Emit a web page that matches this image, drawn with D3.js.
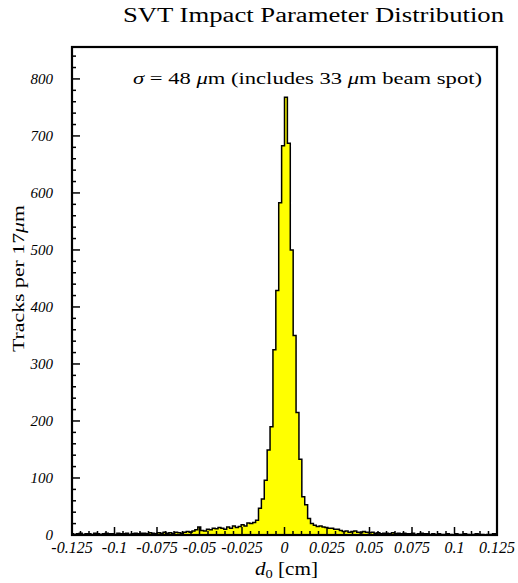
<!DOCTYPE html>
<html>
<head>
<meta charset="utf-8">
<script src="https://cdn.jsdelivr.net/npm/d3@7"></script>
<style>
  body { margin: 0; background: #fff; }
  text { font-family: "Liberation Serif", "DejaVu Serif", serif; }
</style>
</head>
<body>
<script>
// histogram: bins of 17 um (0.0017 cm), first bin starts at -74 * binWidth
var binWidth = 0.0017;
var firstBin = -74;
var counts = [
  // left tail
  2,1,2,3,1,2,2,1,3,2,1,2,3,2,2,1,3,2,2,3,1,2,3,2,3,
  3,2,4,3,2,4,3,5,3,4,2,5,4,3,5,
  6,5,7,9,14,8,7,10,9,12,
  11,13,12,10,14,12,16,13,15,
  18,16,21,20,
  // core
  22,26,47,63,96,149,190,325,429,583,683,
  768,687,500,350,215,133,67,53,29,20,17,
  // right tail
  15,16,14,13,12,12,10,10,
  8,6,7,5,6,7,5,4,6,5,4,5,
  3,4,2,3,3,2,4,2,3,2,3,2,2,3,1,2,3,2,2,1,
  2,1,2,1,1,2,1,0,2,1,1,2,1,0,1,2,1,1,0,1,1,2,1
];
var xTicks = [-0.125, -0.1, -0.075, -0.05, -0.025, 0, 0.025, 0.05, 0.075, 0.1, 0.125];
var xTickLabels = ["-0.125", "-0.1", "-0.075", "-0.05", "-0.025", "0", "0.025", "0.05", "0.075", "0.1", "0.125"];
var yTicks = [0, 100, 200, 300, 400, 500, 600, 700, 800];

var W = 518, H = 583;
var pL = 72, pR = 497, pT = 47, pB = 535;

var svg = d3.select("body").append("svg")
    .attr("width", W)
    .attr("height", H);

var x = d3.scaleLinear().domain([-0.125, 0.125]).range([pL, pR]);
var y = d3.scaleLinear().domain([0, 856]).range([pB, pT]);

// step outline points
var pts = [];
counts.forEach(function(c, i) {
  var x0 = Math.max(-0.125, (firstBin + i) * binWidth);
  var x1 = Math.min(0.125, (firstBin + i + 1) * binWidth);
  pts.push([x0, c], [x1, c]);
});

var area = d3.area()
    .x(function(d) { return x(d[0]); })
    .y0(y(0))
    .y1(function(d) { return y(d[1]); });
var line = d3.line()
    .x(function(d) { return x(d[0]); })
    .y(function(d) { return y(d[1]); });

svg.append("path")
    .attr("d", area(pts))
    .attr("fill", "#ffff00");
svg.append("path")
    .attr("d", line(pts))
    .attr("fill", "none")
    .attr("stroke", "#000")
    .attr("stroke-width", 1.5);

// y ticks (inward)
var yMinor = d3.range(0, 860, 20);
svg.selectAll(".ymin")
    .data(yMinor)
  .enter().append("line")
    .attr("x1", pL).attr("x2", function(d) { return d % 100 === 0 ? pL + 8 : pL + 4; })
    .attr("y1", function(d) { return y(d); }).attr("y2", function(d) { return y(d); })
    .attr("stroke", "#000").attr("stroke-width", 1.5);

svg.selectAll(".ylab")
    .data(yTicks)
  .enter().append("text")
    .attr("x", pL - 19)
    .attr("y", function(d) { return y(d) + 5; })
    .attr("text-anchor", "end")
    .attr("font-style", "italic")
    .attr("font-size", 15)
    .text(function(d) { return d; });

// x ticks
var xMinor = d3.range(-25, 26).map(function(i) { return i * 0.005; });
svg.selectAll(".xmin")
    .data(xMinor)
  .enter().append("line")
    .attr("x1", function(d) { return x(d); }).attr("x2", function(d) { return x(d); })
    .attr("y1", pB)
    .attr("y2", function(d, i) { return (i % 5 === 0) ? pB - 8 : pB - 4; })
    .attr("stroke", "#000").attr("stroke-width", 1.5);

svg.selectAll(".xlab")
    .data(xTicks)
  .enter().append("text")
    .attr("x", function(d) { return x(d); })
    .attr("y", pB + 18)
    .attr("text-anchor", "middle")
    .attr("font-style", "italic")
    .attr("font-size", 16)
    .text(function(d, i) { return xTickLabels[i]; });

// frame
svg.append("rect")
    .attr("x", pL).attr("y", pT)
    .attr("width", pR - pL).attr("height", pB - pT)
    .attr("fill", "none").attr("stroke", "#000").attr("stroke-width", 2.2);

// title
svg.append("text")
    .attr("x", 123).attr("y", 22)
    .attr("font-size", 20)
    .attr("textLength", 381)
    .attr("lengthAdjust", "spacingAndGlyphs")
    .text("SVT Impact Parameter Distribution");

// annotation
var ann = svg.append("text")
    .attr("x", 133).attr("y", 84)
    .attr("font-size", 16)
    .attr("textLength", 349)
    .attr("lengthAdjust", "spacingAndGlyphs");
ann.append("tspan").attr("font-style", "italic").text("σ");
ann.append("tspan").text(" = 48 ");
ann.append("tspan").attr("font-style", "italic").text("μ");
ann.append("tspan").text("m (includes 33 ");
ann.append("tspan").attr("font-style", "italic").text("μ");
ann.append("tspan").text("m beam spot)");

// y label
var yl = svg.append("text")
    .attr("transform", "translate(24,352) rotate(-90)")
    .attr("font-size", 17)
    .attr("textLength", 147)
    .attr("lengthAdjust", "spacingAndGlyphs");
yl.append("tspan").text("Tracks per 17");
yl.append("tspan").attr("font-style", "italic").text("μ");
yl.append("tspan").text("m");

// x label
var xl = svg.append("text")
    .attr("x", 255).attr("y", 575)
    .attr("font-size", 19)
    .attr("textLength", 63)
    .attr("lengthAdjust", "spacingAndGlyphs");
xl.append("tspan").attr("font-style", "italic").text("d");
xl.append("tspan").attr("font-size", 13).attr("dy", 3).text("0");
xl.append("tspan").attr("dy", -3).text(" [cm]");
</script>
</body>
</html>
